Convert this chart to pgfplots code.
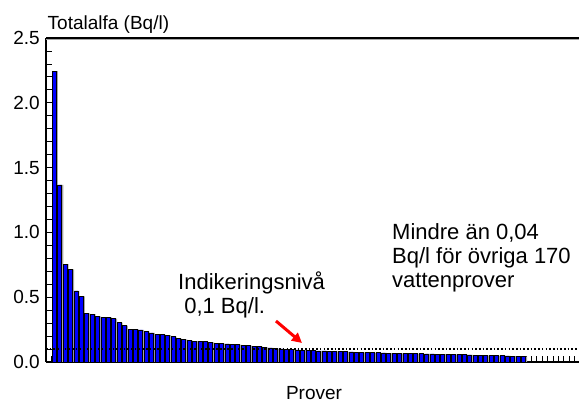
\documentclass[border=0pt]{standalone}
\usepackage{pgfplots}
\pgfplotsset{compat=1.18}
\usepackage{pgfplotstable}
\usepackage{fontspec}
\setmainfont{Liberation Sans}
\usetikzlibrary{arrows.meta}
\pgfplotstableread{
x y
1 2.245
2 1.366
3 0.756
4 0.715
5 0.548
6 0.507
7 0.376
8 0.370
9 0.352
10 0.345
11 0.345
12 0.334
13 0.303
14 0.280
15 0.252
16 0.252
17 0.247
18 0.234
19 0.224
20 0.216
21 0.211
22 0.208
23 0.195
24 0.180
25 0.174
26 0.167
27 0.162
28 0.160
29 0.156
30 0.152
31 0.146
32 0.142
33 0.139
34 0.137
35 0.134
36 0.130
37 0.126
38 0.122
39 0.118
40 0.113
41 0.109
42 0.104
43 0.101
44 0.098
45 0.095
46 0.093
47 0.091
48 0.090
49 0.088
50 0.086
51 0.085
52 0.084
53 0.082
54 0.080
55 0.079
56 0.078
57 0.076
58 0.075
59 0.074
60 0.072
61 0.071
62 0.070
63 0.069
64 0.068
65 0.067
66 0.066
67 0.065
68 0.064
69 0.063
70 0.062
71 0.062
72 0.061
73 0.060
74 0.059
75 0.058
76 0.057
77 0.056
78 0.055
79 0.054
80 0.053
81 0.052
82 0.051
83 0.050
84 0.049
85 0.047
86 0.045
87 0.043
88 0.041
}\datatable

\begin{document}
\fontsize{19}{23}\selectfont
\begin{tikzpicture}
\useasboundingbox (0,0) rectangle (579pt,402pt);
\begin{axis}[
  at={(46pt,40pt)}, anchor=south west,
  scale only axis, width=539.3pt, height=324pt,
  xmin=-0.5, xmax=99.5, ymin=0, ymax=2.5,
  axis x line=box, axis y line=left,
  x axis line style={-}, y axis line style={-},
  axis line style={line width=2pt, black},
  xtick={-0.5,0.5,...,99.5}, xticklabels={}, xtick pos=left,
  ytick={0,0.5,...,2.5}, minor y tick num=4, ytick pos=left,
  tick align=inside,
  major tick length=5.5pt, minor tick length=5.5pt,
  tick style={black, line width=0.8pt},
  yticklabel style={inner sep=0pt, xshift=-6pt,
    /pgf/number format/fixed, /pgf/number format/fixed zerofill,
    /pgf/number format/precision=1},
  /pgf/number format/assume math mode=true,
  clip=false,
]
\addplot[ybar, bar width=4pt, bar shift=1.8pt, fill=gray!70, draw=none] table[x=x,y=y]{\datatable};
\addplot[ybar, bar width=4pt, bar shift=0.3pt, fill=blue, draw=black, line width=0.7pt] table[x=x,y=y]{\datatable};
\draw[black, line width=1.6pt, dash pattern=on 1.6pt off 2.1pt] (axis cs:-0.5,0.1) -- (axis cs:99.5,0.1);
\draw[gray!70, line width=1.2pt] ([yshift=-1.6pt]rel axis cs:0,1) -- ([yshift=-1.6pt]rel axis cs:1,1);
\end{axis}
\node[anchor=base west, inner sep=0pt] at (47.5pt,372.5pt) {Totalalfa (Bq/l)};
\node[anchor=base, inner sep=0pt] at (314pt,2.5pt) {Prover};
\begin{scope}[every node/.style={font=\fontsize{22}{26}\selectfont, anchor=base west, inner sep=0pt}]
\node at (392pt,162pt) {Mindre än 0,04};
\node at (392pt,138pt) {Bq/l för övriga 170};
\node at (392pt,114pt) {vattenprover};
\node at (178pt,112pt) {Indikeringsnivå};
\node at (178pt,88pt) {\ 0,1 Bq/l.};
\end{scope}
\draw[red, line width=3pt, -{Triangle[length=10pt,width=10pt]}] (276pt,81pt) -- (302pt,59pt);
\end{tikzpicture}
\end{document}
